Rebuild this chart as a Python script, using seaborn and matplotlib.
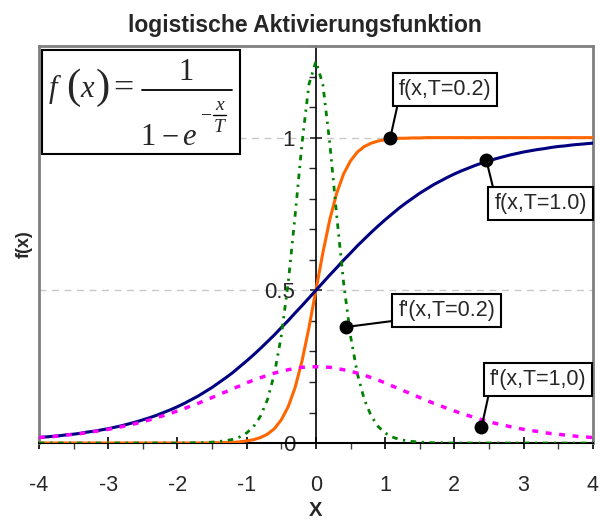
import numpy as np
import pandas as pd
import matplotlib
matplotlib.use("Agg")
import matplotlib.pyplot as plt
from matplotlib.patches import Rectangle
from matplotlib.lines import Line2D
from matplotlib.ticker import MultipleLocator
import seaborn as sns

# sample positions on the x axis
x_vals = np.round(np.linspace(-4, 4, 81), 1)

# f(x, T=0.2)
f_t02 = [0.000, 0.000, 0.000, 0.000, 0.000, 0.000, 0.000, 0.000, 0.000, 0.000,
         0.000, 0.000, 0.000, 0.000, 0.000, 0.000, 0.000, 0.000, 0.000, 0.000,
         0.000, 0.000, 0.000, 0.000, 0.000, 0.001, 0.001, 0.002, 0.002, 0.004,
         0.007, 0.011, 0.018, 0.029, 0.047, 0.076, 0.119, 0.182, 0.269, 0.378,
         0.500,
         0.622, 0.731, 0.818, 0.881, 0.924, 0.953, 0.971, 0.982, 0.989, 0.993,
         0.996, 0.998, 0.998, 0.999, 0.999, 1.000, 1.000, 1.000, 1.000, 1.000,
         1.000, 1.000, 1.000, 1.000, 1.000, 1.000, 1.000, 1.000, 1.000, 1.000,
         1.000, 1.000, 1.000, 1.000, 1.000, 1.000, 1.000, 1.000, 1.000, 1.000]

# f(x, T=1.0)
f_t10 = [0.018, 0.020, 0.022, 0.024, 0.027, 0.029, 0.032, 0.036, 0.039, 0.043,
         0.047, 0.052, 0.057, 0.063, 0.069, 0.076, 0.083, 0.091, 0.100, 0.109,
         0.119, 0.130, 0.142, 0.154, 0.168, 0.182, 0.198, 0.214, 0.231, 0.250,
         0.269, 0.289, 0.310, 0.332, 0.354, 0.378, 0.401, 0.426, 0.450, 0.475,
         0.500,
         0.525, 0.550, 0.574, 0.599, 0.622, 0.646, 0.668, 0.690, 0.711, 0.731,
         0.750, 0.769, 0.786, 0.802, 0.818, 0.832, 0.846, 0.858, 0.870, 0.881,
         0.891, 0.900, 0.909, 0.917, 0.924, 0.931, 0.937, 0.943, 0.948, 0.953,
         0.957, 0.961, 0.964, 0.968, 0.971, 0.973, 0.976, 0.978, 0.980, 0.982]

# f'(x, T=0.2)
df_t02 = [0.000, 0.000, 0.000, 0.000, 0.000, 0.000, 0.000, 0.000, 0.000, 0.000,
          0.000, 0.000, 0.000, 0.000, 0.000, 0.000, 0.000, 0.000, 0.000, 0.000,
          0.000, 0.000, 0.001, 0.001, 0.002, 0.003, 0.005, 0.008, 0.012, 0.020,
          0.033, 0.054, 0.088, 0.142, 0.226, 0.351, 0.525, 0.746, 0.983, 1.175,
          1.250,
          1.175, 0.983, 0.746, 0.525, 0.351, 0.226, 0.142, 0.088, 0.054, 0.033,
          0.020, 0.012, 0.008, 0.005, 0.003, 0.002, 0.001, 0.001, 0.000, 0.000,
          0.000, 0.000, 0.000, 0.000, 0.000, 0.000, 0.000, 0.000, 0.000, 0.000,
          0.000, 0.000, 0.000, 0.000, 0.000, 0.000, 0.000, 0.000, 0.000, 0.000]

# f'(x, T=1.0)
df_t10 = [0.018, 0.020, 0.021, 0.024, 0.026, 0.029, 0.031, 0.034, 0.038, 0.041,
          0.045, 0.049, 0.054, 0.059, 0.064, 0.070, 0.076, 0.083, 0.090, 0.097,
          0.105, 0.113, 0.122, 0.130, 0.140, 0.149, 0.159, 0.168, 0.178, 0.187,
          0.197, 0.206, 0.214, 0.222, 0.229, 0.235, 0.240, 0.244, 0.248, 0.249,
          0.250,
          0.249, 0.248, 0.244, 0.240, 0.235, 0.229, 0.222, 0.214, 0.206, 0.197,
          0.187, 0.178, 0.168, 0.159, 0.149, 0.140, 0.130, 0.122, 0.113, 0.105,
          0.097, 0.090, 0.083, 0.076, 0.070, 0.064, 0.059, 0.054, 0.049, 0.045,
          0.041, 0.038, 0.034, 0.031, 0.029, 0.026, 0.024, 0.021, 0.020, 0.018]

x_ticks = [-4, -3, -2, -1, 0, 1, 2, 3, 4]
y_ticks = [0, 0.5, 1]
y_ticklabels = ["0", "0.5", "1"]

df = pd.DataFrame({"x": x_vals, "f_t02": f_t02, "f_t10": f_t10,
                   "df_t02": df_t02, "df_t10": df_t10})

sns.set_style("white")
plt.rcParams["font.family"] = ["Liberation Sans", "DejaVu Sans"]

fig = plt.figure(figsize=(6, 5.2), dpi=100)
ax = fig.add_axes([0.065, 0.148, 0.923, 0.7635])

# dashed helper lines
for yv in [0.5, 1.0]:
    ax.axhline(yv, color="#c8c8c8", lw=1.0, ls=(0, (5, 4)), zorder=0)

sns.lineplot(data=df, x="x", y="f_t02", color="#ff6600", lw=2.2, ax=ax, zorder=3)
sns.lineplot(data=df, x="x", y="f_t10", color="#000080", lw=2.2, ax=ax, zorder=3)
sns.lineplot(data=df, x="x", y="df_t02", color="#008000", lw=2.0,
             linestyle=(0, (2, 2, 0.8, 2)), ax=ax, zorder=4)
sns.lineplot(data=df, x="x", y="df_t10", color="#ff00ff", lw=2.5,
             linestyle=(0, (1.7, 2.2)), ax=ax, zorder=4)

ax.set_xlim(-4, 4)
ax.set_ylim(0, 1.3)

# frame
for side in ["top", "left", "right"]:
    ax.spines[side].set_color("#808080")
    ax.spines[side].set_linewidth(2)
ax.spines["bottom"].set_color("black")
ax.spines["bottom"].set_linewidth(1.5)

ax.set_xticks(x_ticks)
ax.set_xticklabels([str(t) for t in x_ticks], fontsize=15.5)
ax.xaxis.set_minor_locator(MultipleLocator(0.5))
ax.tick_params(axis="x", which="major", direction="inout", length=8, width=1.2,
               color="black", pad=19, bottom=True)
ax.tick_params(axis="x", which="minor", direction="out", length=4, width=1,
               color="#404040", bottom=True)
ax.tick_params(axis="y", left=False, labelleft=False)

# y axis in the middle of the plot
sec = ax.secondary_yaxis(0.5)
sec.set_alignment("left")
sec.spines["left"].set_color("black")
sec.spines["left"].set_linewidth(1.2)
sec.set_yticks(y_ticks)
sec.set_yticklabels(y_ticklabels, fontsize=16)
sec.yaxis.set_minor_locator(MultipleLocator(0.1))
sec.tick_params(which="major", direction="inout", length=8, width=1.2, pad=11)
sec.tick_params(which="minor", direction="out", length=5, width=1)

ax.set_xlabel("X", fontsize=14.5, fontweight="bold")
ax.xaxis.set_label_coords(0.5, (443 - 516) / 397)
ax.xaxis.label.set_va("baseline")
ax.set_ylabel("f(x)", fontsize=13, fontweight="bold")
ax.yaxis.set_label_coords(-0.027, 0.5)
ax.yaxis.label.set_va("center")

fig.text(0.5075, 1 - 32 / 520, "logistische Aktivierungsfunktion",
         ha="center", va="baseline", fontsize=16.5, fontweight="bold")

# formula box, pieces placed in figure pixels
ax.add_patch(Rectangle((-3.96, 0.948), 2.87, 0.34, facecolor="white",
                       edgecolor="black", lw=1.5, zorder=6))


def px(x, y):
    return x / 600, 1 - y / 520


serif = "Liberation Serif"
pieces = [
    ("f", 49, 97, 22, "italic", "left"),
    ("(", 66, 98, 31, "normal", "left"),
    ("x", 80, 97, 22, "italic", "left"),
    (")", 96, 98, 31, "normal", "left"),
    ("=", 113, 98, 26, "normal", "left"),
    ("1", 186, 80, 22, "normal", "center"),
    ("1", 148, 145, 22, "normal", "center"),
    ("\u2212", 170, 145, 22, "normal", "center"),
    ("e", 189, 145, 22, "italic", "center"),
    ("\u2212", 206, 121, 14, "normal", "center"),
    ("x", 219.5, 110, 14, "italic", "center"),
    ("T", 219, 132, 14, "italic", "center"),
]
for s, xp, yp, fs, st, ha in pieces:
    xf, yf = px(xp, yp)
    fig.text(xf, yf, s, family=serif, style=st, fontsize=fs, ha=ha,
             va="baseline", zorder=10)
for x0, x1, y0, w in [(142, 232, 90, 1.3), (213, 226, 115, 1.0)]:
    a, b = px(x0, y0)
    c, d = px(x1, y0)
    fig.add_artist(Line2D([a, c], [b, d], color="black", lw=w, zorder=10))

# labelled points
box = dict(boxstyle="square,pad=0.28", fc="white", ec="black", lw=1.5)
notes = [
    ("f(x,T=0.2)", (1.075, 1.0), (1.195, 1.157), (0, 0)),
    ("f(x,T=1.0)", (2.46, 0.928), (2.58, 0.783), (0, 1)),
    ("f'(x,T=0.2)", (0.436, 0.38), (1.19, 0.433), (0, 0.05)),
    ("f'(x,T=1,0)", (2.392, 0.051), (2.51, 0.2075), (0, 0)),
]
for label, xy, xyt, rp in notes:
    ax.annotate(label, xy=xy, xytext=xyt, textcoords="data", ha="left",
                va="center", fontsize=15.5, bbox=box, zorder=8,
                arrowprops=dict(arrowstyle="-", color="black", lw=1.5,
                                shrinkA=0, shrinkB=0, relpos=rp))
    ax.plot([xy[0]], [xy[1]], "o", color="black", ms=9, zorder=9, clip_on=False)

fig.savefig("out.png", dpi=100)
